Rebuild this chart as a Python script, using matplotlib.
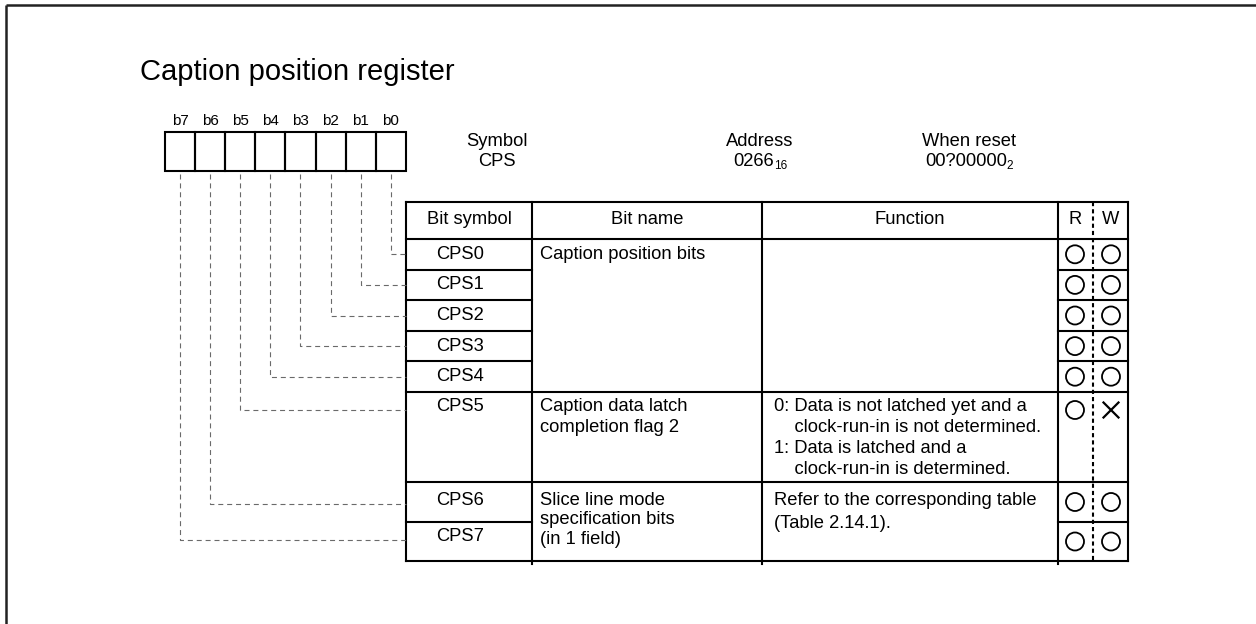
import matplotlib
matplotlib.use("Agg")
import matplotlib.pyplot as plt
from matplotlib.patches import Circle, Rectangle

plt.rcParams["font.family"] = ["Liberation Sans", "DejaVu Sans"]
plt.rcParams["lines.scale_dashes"] = False

# ---- register content ----
title = "Caption position register"
bit_labels = ["b7", "b6", "b5", "b4", "b3", "b2", "b1", "b0"]
bit_symbols = ["CPS0", "CPS1", "CPS2", "CPS3", "CPS4", "CPS5", "CPS6", "CPS7"]
read_marks = ["O", "O", "O", "O", "O", "O", "O", "O"]
write_marks = ["O", "O", "O", "O", "O", "X", "O", "O"]
info_heads = ["Symbol", "Address", "When reset"]
info_values = ["CPS", "0266", "00?00000"]
info_subs = ["", "16", "2"]
headers = ["Bit symbol", "Bit name", "Function"]
# (first row, last row, lines)
bit_names = [
    (0, 4, ["Caption position bits"]),
    (5, 5, ["Caption data latch", "completion flag 2"]),
    (6, 7, ["Slice line mode", "specification bits", "(in 1 field)"]),
]
functions = [
    (0, 4, []),
    (5, 5, ["0: Data is not latched yet and a",
            "    clock-run-in is not determined.",
            "1: Data is latched and a",
            "    clock-run-in is determined."]),
    (6, 7, ["Refer to the corresponding table", "(Table 2.14.1)."]),
]

# ---- layout (pixels) ----
W, H = 1256, 624
FS = 13.2
REG_X0, REG_Y0, REG_Y1, CELL = 165, 132, 171, 30.1
TBL_X = [406, 532, 762, 1058, 1128]
RW_MID = 1093
TBL_TOP, HEAD_BOT = 202, 239
ROW_H = [30.6] * 5 + [90, 40, 39]

fig = plt.figure(figsize=(W / 100, H / 100), dpi=100)
ax = fig.add_axes([0, 0, 1, 1])
ax.set_xlim(0, W)
ax.set_ylim(H, 0)
ax.axis("off")

# frame
ax.plot([6, W], [5, 5], color="#222222", lw=1.8, solid_capstyle="butt")
ax.plot([6, 6], [5, H], color="#222222", lw=1.8, solid_capstyle="butt")

ax.text(140, 80, title, fontsize=21, ha="left", va="baseline")

# register boxes
bit_x = []
for i, lab in enumerate(bit_labels):
    x0 = REG_X0 + i * CELL
    ax.add_patch(Rectangle((x0, REG_Y0), CELL, REG_Y1 - REG_Y0, fill=False,
                           ec="black", lw=1.5))
    bit_x.append(x0 + CELL / 2)
    ax.text(x0 + CELL / 2, 125, lab, fontsize=11, ha="center", va="baseline")

# symbol / address / reset info
renderer = fig.canvas.get_renderer()
for cx, head, val, sub in zip([497, 760, 969], info_heads, info_values, info_subs):
    ax.text(cx, 142, head, fontsize=FS, ha="center", va="center")
    t = ax.text(0, 162, val, fontsize=FS, ha="left", va="center")
    w_main = t.get_window_extent(renderer).width
    w_sub = 0
    if sub:
        s = ax.text(0, 166, sub, fontsize=8.5, ha="left", va="center")
        w_sub = s.get_window_extent(renderer).width
        s.set_x(cx - (w_main + w_sub) / 2 + w_main)
    t.set_x(cx - (w_main + w_sub) / 2)

# row geometry
row_top = [HEAD_BOT]
for h in ROW_H:
    row_top.append(row_top[-1] + h)
TBL_BOT = row_top[-1]


def row_text_y(r):
    if r == 5:
        return row_top[r] + 14
    if r == 6:
        return row_top[r] + 18
    if r == 7:
        return row_top[r] + 14
    return row_top[r] + ROW_H[r] / 2


def hline(x0, x1, y, lw=1.5):
    ax.plot([x0, x1], [y, y], color="black", lw=lw, solid_capstyle="projecting")


def vline(x, y0, y1, lw=1.5):
    ax.plot([x, x], [y0, y1], color="black", lw=lw, solid_capstyle="projecting")


# table frame and column lines
hline(TBL_X[0], TBL_X[-1], TBL_TOP)
hline(TBL_X[0], TBL_X[-1], HEAD_BOT)
hline(TBL_X[0], TBL_X[-1], TBL_BOT)
vline(TBL_X[0], TBL_TOP, TBL_BOT)
vline(TBL_X[-1], TBL_TOP, TBL_BOT)
for x in TBL_X[1:-1]:
    vline(x, TBL_TOP, TBL_BOT + 3)
ax.plot([RW_MID, RW_MID], [TBL_TOP, TBL_BOT], color="black", lw=1.5,
        dashes=(3.0, 2.2))

# headers
for x0, x1, head in zip(TBL_X[:3], TBL_X[1:4], headers):
    ax.text((x0 + x1) / 2, 220, head, fontsize=FS, ha="center", va="center")
ax.text((TBL_X[3] + RW_MID) / 2, 220, "R", fontsize=FS, ha="center", va="center")
ax.text((RW_MID + TBL_X[4]) / 2, 220, "W", fontsize=FS, ha="center", va="center")

# bit symbol rows + R/W marks
for r, sym in enumerate(bit_symbols):
    top = row_top[r]
    if r > 0:
        hline(TBL_X[0], TBL_X[1], top)
        hline(TBL_X[3], TBL_X[4], top)
    ty = row_text_y(r)
    ax.text(436, ty, sym, fontsize=FS, ha="left", va="center")
    my = top + 18 if r == 5 else top + ROW_H[r] / 2
    for cx, mark in zip([1075, 1111], [read_marks[r], write_marks[r]]):
        if mark == "O":
            ax.add_patch(Circle((cx, my), 9, fill=False, ec="black", lw=1.3))
        else:
            ax.plot([cx - 7.5, cx + 7.5], [my - 7.5, my + 7.5], color="black", lw=1.6)
            ax.plot([cx - 7.5, cx + 7.5], [my + 7.5, my - 7.5], color="black", lw=1.6)

# dashed connectors from register bits to bit symbols
for r in range(len(bit_symbols)):
    bx = bit_x[len(bit_labels) - 1 - r]
    cy = row_text_y(r) + (4 if r >= 5 else 0)
    ax.plot([bx, bx, TBL_X[0]], [REG_Y1 + 3, cy, cy], color="#6a6a6a", lw=0.8,
            dashes=(3.6, 2.8))

# bit name and function groups
steps = {("name", 5): 21.0, ("name", 6): 19.5, ("func", 5): 21.0, ("func", 6): 23.0}
for kind, groups, x_text, col in [("name", bit_names, 540, (1, 2)),
                                  ("func", functions, 774, (2, 3))]:
    for first, last, lines in groups:
        if first > 0:
            hline(TBL_X[col[0]], TBL_X[col[1]], row_top[first])
        step = steps.get((kind, first), 21.0)
        y0 = row_text_y(first)
        for k, line in enumerate(lines):
            ax.text(x_text, y0 + k * step, line, fontsize=FS, ha="left", va="center")

fig.savefig("out.png", dpi=100)
